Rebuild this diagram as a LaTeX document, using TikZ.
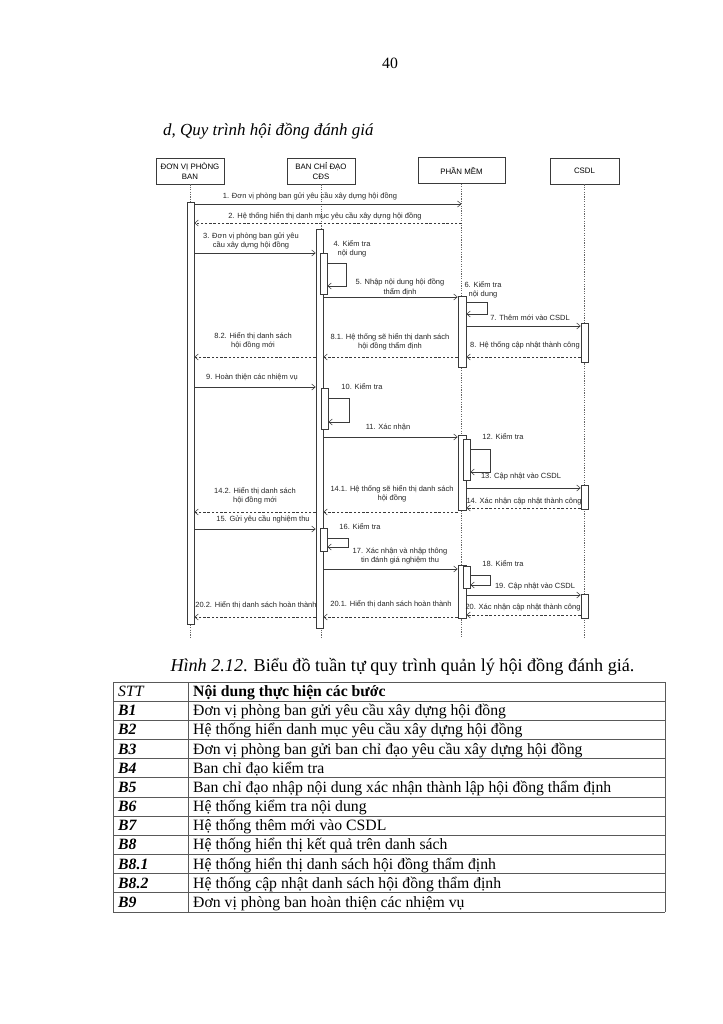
\documentclass[tikz,border=0pt]{standalone}
\usepackage{fontspec}
\setmainfont{Liberation Serif}
\newfontfamily\seqfont{Liberation Sans}
\usepackage{tikz}
\usetikzlibrary{arrows.meta, positioning, calc, fit}
\definecolor{seqline}{HTML}{3A3A3A}

\begin{document}
\begin{tikzpicture}[
    x=0.2905mm, y=-0.2905mm,
    actor/.style={draw=seqline, line width=0.5pt, minimum height=21.5pt,
                  inner sep=1pt, align=center,
                  font=\seqfont\fontsize{6.5}{7.6}\selectfont},
    actbar/.style={draw=seqline, fill=white, line width=0.5pt, inner sep=0pt},
    lifeline/.style={draw=gray!80!black, line width=0.4pt,
                     dash pattern=on 1pt off 1pt},
    msg/.style={draw=seqline, line width=0.45pt,
                -{Straight Barb[length=3pt,width=5pt]}},
    reply/.style={msg, dash pattern=on 2pt off 1.5pt},
    lbl/.style={font=\seqfont\fontsize{6.2}{7.8}\selectfont, align=center,
                inner sep=0pt, text=black!85},
    pagetext/.style={font=\fontsize{13}{15.6}\selectfont, inner sep=0pt},
    cell/.style={pagetext, anchor=base west},
    cellkey/.style={cell, font=\fontsize{13}{15.6}\selectfont\bfseries\itshape},
    tabline/.style={draw=black!65, line width=0.8pt}
  ]
  \useasboundingbox[fill=white] (0,0) rectangle (723,1024);

  % page head
  \node[pagetext, anchor=base] (pgno) at (390,69) {40};
  \node[anchor=base west, inner sep=0pt,
        font=\fontsize{14}{16}\selectfont\itshape] (title) at (163,136)
    {d, Quy trình hội đồng đánh giá};

  % actors and lifelines
  \node[actor, minimum width=56pt] (dv) at (190,171) {ĐƠN VỊ PHÒNG\\BAN};
  \node[actor, minimum width=56pt] (bcd) at (321,171) {BAN CHỈ ĐẠO\\CĐS};
  \node[actor, minimum width=71.7pt] (pm) at (461.5,170.5) {PHẦN MỀM};
  \node[actor, minimum width=56.8pt] (db) at (584.5,171) {CSDL};
  \foreach \a in {dv, bcd, pm, db}
    \draw[lifeline] (\a.south) -- (\a.south |- 0,637);

  % activation bars
  \node[actbar, fit={(187,202) (194,624)}] (barA) {};
  \node[actbar, fit={(316,229) (323,628)}] (barB) {};
  \node[actbar, fit={(320,253) (327,294)}] (b4) {};
  \node[actbar, fit={(321,388) (328,429)}] (b10) {};
  \node[actbar, fit={(320,528) (327,551)}] (b16) {};
  \node[actbar, fit={(458,296) (466,367)}] (barC1) {};
  \node[actbar, fit={(458,435) (466,510)}] (barC2) {};
  \node[actbar, fit={(463,439) (470,480)}] (c12) {};
  \node[actbar, fit={(458,565) (466,618)}] (barC3) {};
  \node[actbar, fit={(463,566) (470,588)}] (c18) {};
  \node[actbar, fit={(581,323) (588,362)}] (barD1) {};
  \node[actbar, fit={(581,485) (588,509)}] (barD2) {};
  \node[actbar, fit={(581,594) (588,618)}] (barD3) {};

  % messages
  \draw[msg] (barA.east |- 0,204) -- (pm.south |- 0,204);
  \draw[reply] (pm.south |- 0,223) -- (barA.east |- 0,223);
  \draw[msg] (barA.east |- 0,253) -- (barB.west |- 0,253);
  \draw[msg] (b4.east |- 0,263) -- ++(19,0) |- (b4.east |- 0,286);
  \draw[msg] (barB.east |- 0,297) -- (barC1.west |- 0,297);
  \draw[msg] (barC1.east |- 0,302) -- ++(21,0) |- (barC1.east |- 0,314);
  \draw[msg] (barC1.east |- 0,326) -- (barD1.west |- 0,326);
  \draw[reply] (barD1.west |- 0,357) -- (barC1.east |- 0,357);
  \draw[reply] (barC1.west |- 0,357) -- (barB.east |- 0,357);
  \draw[reply] (barB.west |- 0,357) -- (barA.east |- 0,357);
  \draw[msg] (barA.east |- 0,387) -- (barB.west |- 0,387);
  \draw[msg] (b10.east |- 0,398) -- ++(21,0) |- (b10.east |- 0,422);
  \draw[msg] (barB.east |- 0,437) -- (barC2.west |- 0,437);
  \draw[msg] (c12.east |- 0,449) -- ++(20,0) |- (c12.east |- 0,472);
  \draw[msg] (barC2.east |- 0,488) -- (barD2.west |- 0,488);
  \draw[reply] (barD2.west |- 0,508) -- (barC2.east |- 0,508);
  \draw[reply] (barC2.west |- 0,512) -- (barB.east |- 0,512);
  \draw[reply] (barB.west |- 0,512) -- (barA.east |- 0,512);
  \draw[msg] (barA.east |- 0,529) -- (barB.west |- 0,529);
  \draw[msg] (b16.east |- 0,538) -- ++(21,0) |- (b16.east |- 0,547);
  \draw[msg] (barB.east |- 0,569) -- (barC3.west |- 0,569);
  \draw[msg] (c18.east |- 0,575) -- ++(20,0) |- (c18.east |- 0,585);
  \draw[msg] (barC3.east |- 0,595) -- (barD3.west |- 0,595);
  \draw[reply] (barD3.west |- 0,615) -- (barC3.east |- 0,615);
  \draw[reply] (barC3.west |- 0,617) -- (barB.east |- 0,617);
  \draw[reply] (barB.west |- 0,617) -- (barA.east |- 0,617);

  % message labels
  \node[lbl] (m1) at (310,196) {1. Đơn vị phòng ban gửi yêu cầu xây dựng hội đồng};
  \node[lbl] (m2) at (325,216) {2. Hệ thống hiển thị danh mục yêu cầu xây dựng hội đồng};
  \node[lbl] (m3) at (251,241) {3. Đơn vị phòng ban gửi yêu\\cầu xây dựng hội đồng};
  \node[lbl] (m4) at (352,249) {4. Kiểm tra\\nội dung};
  \node[lbl] (m5) at (400,287) {5. Nhập nội dung hội đồng\\thẩm định};
  \node[lbl] (m6) at (483,289.5) {6. Kiểm tra\\nội dung};
  \node[lbl] (m7) at (530,318) {7. Thêm mới vào CSDL};
  \node[lbl] (m8) at (525,345) {8. Hệ thống cập nhật thành công};
  \node[lbl] (m81) at (390,341.5) {8.1. Hệ thống sẽ hiển thị danh sách\\hội đồng thẩm định};
  \node[lbl] (m82) at (253,341) {8.2. Hiển thị danh sách\\hội đồng mới};
  \node[lbl] (m9) at (252,377) {9. Hoàn thiện các nhiệm vụ};
  \node[lbl] (m10) at (362,387) {10. Kiểm tra};
  \node[lbl] (m11) at (388,427) {11. Xác nhận};
  \node[lbl] (m12) at (503,437) {12. Kiểm tra};
  \node[lbl] (m13) at (521,477) {13. Cập nhật vào CSDL};
  \node[lbl] (m14) at (524,502) {14. Xác nhận cập nhật thành công};
  \node[lbl] (m141) at (392,493.5) {14.1. Hệ thống sẽ hiển thị danh sách\\hội đồng};
  \node[lbl] (m142) at (255,496) {14.2. Hiển thị danh sách\\hội đồng mới};
  \node[lbl] (m15) at (263,519) {15. Gửi yêu cầu nghiệm thu};
  \node[lbl] (m16) at (360,527) {16. Kiểm tra};
  \node[lbl] (m17) at (400,556) {17. Xác nhận và nhập thông\\tin đánh giá nghiệm thu};
  \node[lbl] (m18) at (503,564) {18. Kiểm tra};
  \node[lbl] (m19) at (535,587) {19. Cập nhật vào CSDL};
  \node[lbl] (m20) at (523,608) {20. Xác nhận cập nhật thành công};
  \node[lbl] (m201) at (391,604) {20.1. Hiển thị danh sách hoàn thành};
  \node[lbl] (m202) at (256,605) {20.2. Hiển thị danh sách hoàn thành};

  % caption
  \node[anchor=base, inner sep=0pt, font=\fontsize{15}{17}\selectfont]
    (cap) at (402.5,671)
    {\textit{Hình 2.12}. Biểu đồ tuần tự quy trình quản lý hội đồng đánh giá.};

  % steps table
  \foreach \i in {0,...,12}
    \draw[tabline] (113,{682+19.17*\i}) -- (665,{682+19.17*\i});
  \draw[tabline] (113,682) -- (113,912.2) (188,682) -- (188,912.2)
    (665,682) -- (665,912.2);
  \node[cell, font=\fontsize{13}{15.6}\selectfont\itshape] (hstt) at (118,696.5) {STT};
  \node[cell, font=\fontsize{13}{15.6}\selectfont\bfseries] (hnd) at (193,696.5)
    {Nội dung thực hiện các bước};
  \foreach \k/\t [count=\i] in {
      B1/Đơn vị phòng ban gửi yêu cầu xây dựng hội đồng,
      B2/Hệ thống hiển danh mục yêu cầu xây dựng hội đồng,
      B3/Đơn vị phòng ban gửi ban chỉ đạo yêu cầu xây dựng hội đồng,
      B4/Ban chỉ đạo kiểm tra,
      B5/Ban chỉ đạo nhập nội dung xác nhận thành lập hội đồng thẩm định,
      B6/Hệ thống kiểm tra nội dung,
      B7/Hệ thống thêm mới vào CSDL,
      B8/Hệ thống hiển thị kết quả trên danh sách,
      B8.1/Hệ thống hiển thị danh sách hội đồng thẩm định,
      B8.2/Hệ thống cập nhật danh sách hội đồng thẩm định,
      B9/Đơn vị phòng ban hoàn thiện các nhiệm vụ} {
    \node[cellkey] (k\i) at (118,{696.5+19.17*\i}) {\k};
    \node[cell] (t\i) at (193,{696.5+19.17*\i}) {\t};
  }
\end{tikzpicture}
\end{document}
